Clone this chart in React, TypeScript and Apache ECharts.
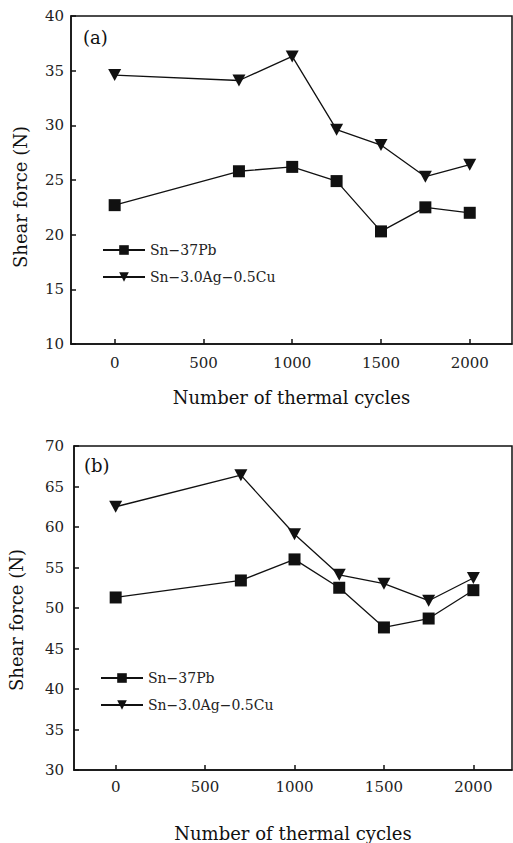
import React, { useEffect, useRef } from "react";
import * as echarts from "echarts";

const xCycles = [0, 700, 1000, 1250, 1500, 1750, 2000];
const snPbA = [22.7, 25.8, 26.2, 24.9, 20.3, 22.5, 22.0];
const sacA = [34.6, 34.1, 36.3, 29.6, 28.2, 25.3, 26.4];
const snPbB = [51.3, 53.4, 56.0, 52.5, 47.6, 48.7, 52.2];
const sacB = [62.5, 66.4, 59.1, 54.1, 53.0, 50.9, 53.7];
const xTicks = [0, 500, 1000, 1500, 2000];
const nameSnPb = "Sn−37Pb";
const nameSac = "Sn−3.0Ag−0.5Cu";
const yTitle = "Shear force (N)";
const xTitle = "Number of thermal cycles";

const FONT = "DejaVu Serif";
const INK = "#111";
const DOWN_TRI = "path://M0,0 L10,0 L5,9 Z";

function pairs(ys: number[]) {
  return xCycles.map((x, i) => [x, ys[i]]);
}

export default function App() {
  const ref = useRef<HTMLDivElement>(null);
  useEffect(() => {
    if (!ref.current) return;
    const chart = echarts.init(ref.current, null, { renderer: "svg" });
    const xAxisBase = (gridIndex: number, min: number, max: number, margin: number, nameGap: number) => ({
      type: "value",
      gridIndex,
      min,
      max,
      name: xTitle,
      nameLocation: "middle",
      nameGap,
      nameTextStyle: { fontFamily: FONT, fontSize: 18, color: INK },
      axisLine: { show: true, onZero: false, lineStyle: { color: INK, width: 1.5 } },
      axisTick: { show: true, inside: true, length: 5, customValues: xTicks, lineStyle: { color: INK, width: 1.5 } },
      axisLabel: {
        customValues: xTicks,
        margin,
        fontFamily: FONT,
        fontSize: 15,
        color: "#222",
        formatter: (v: number) => String(v),
      },
      splitLine: { show: false },
    });
    const yAxisBase = (gridIndex: number, min: number, max: number, margin: number) => ({
      type: "value",
      gridIndex,
      min,
      max,
      interval: 5,
      axisLine: { show: true, onZero: false, lineStyle: { color: INK, width: 1.5 } },
      axisTick: { show: true, inside: true, length: 5, lineStyle: { color: INK, width: 1.5 } },
      axisLabel: { margin, fontFamily: FONT, fontSize: 15, color: "#222" },
      splitLine: { show: false },
    });
    const lineSeries = (name: string, ys: number[], idx: number, tri: boolean) => ({
      type: "line",
      name,
      xAxisIndex: idx,
      yAxisIndex: idx,
      data: pairs(ys),
      symbol: tri ? DOWN_TRI : "rect",
      symbolSize: tri ? [13, 12] : 12,
      itemStyle: { color: INK },
      lineStyle: { color: INK, width: 1.3 },
      z: tri ? 3 : 4,
    });
    const legendBase = (top: number, left: number) => ({
      orient: "vertical",
      left,
      top,
      itemWidth: 42,
      itemHeight: 12,
      itemGap: 13,
      data: [nameSnPb, nameSac],
      textStyle: { fontFamily: FONT, fontSize: 14, color: "#222" },
      selectedMode: false,
    });
    chart.setOption({
      animation: false,
      backgroundColor: "#fff",
      grid: [
        { left: 71, top: 16, width: 441, height: 328, show: true, borderColor: INK, borderWidth: 1.5, backgroundColor: "transparent" },
        { left: 74, top: 446, width: 438, height: 330, show: true, borderColor: INK, borderWidth: 1.5, backgroundColor: "transparent" },
      ],
      xAxis: [xAxisBase(0, -246, 2238, 11, 44), xAxisBase(1, -233, 2216, 9, 54)],
      yAxis: [yAxisBase(0, 10, 40, 7), yAxisBase(1, 30, 70, 10)],
      legend: [legendBase(238, 97), legendBase(666, 95)],
      series: [
        lineSeries(nameSnPb, snPbA, 0, false),
        lineSeries(nameSac, sacA, 0, true),
        lineSeries(nameSnPb, snPbB, 1, false),
        lineSeries(nameSac, sacB, 1, true),
      ],
      graphic: [
        { type: "text", x: 83, y: 37, style: { text: "(a)", fontFamily: FONT, fontSize: 18, fill: INK, textVerticalAlign: "middle" } },
        { type: "text", x: 84, y: 465, style: { text: "(b)", fontFamily: FONT, fontSize: 18, fill: INK, textVerticalAlign: "middle" } },
        { type: "text", x: 20, y: 197, rotation: Math.PI / 2, style: { text: yTitle, fontFamily: FONT, fontSize: 18, fill: INK, textAlign: "center", textVerticalAlign: "middle" } },
        { type: "text", x: 16, y: 620, rotation: Math.PI / 2, style: { text: yTitle, fontFamily: FONT, fontSize: 18, fill: INK, textAlign: "center", textVerticalAlign: "middle" } },
      ],
    });
    return () => chart.dispose();
  }, []);
  return <div ref={ref} style={{ position: "fixed", left: 0, top: 0, width: 513, height: 843 }} />;
}
